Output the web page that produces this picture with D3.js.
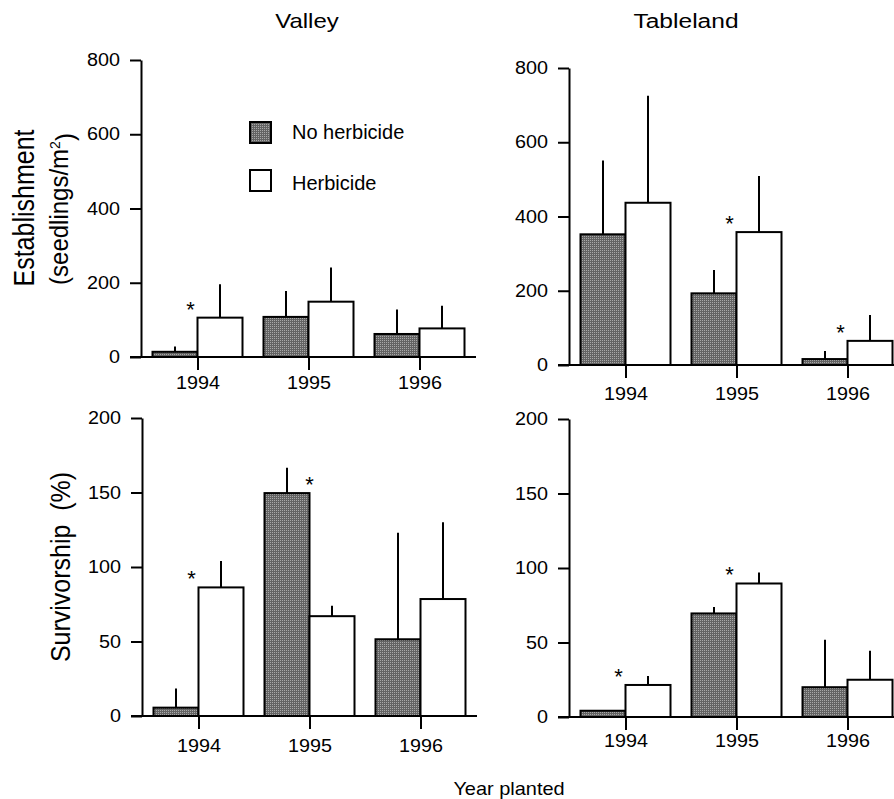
<!DOCTYPE html>
<html>
<head>
<meta charset="utf-8">
<script src="https://cdn.jsdelivr.net/npm/d3@7/dist/d3.min.js"></script>
<style>
  html, body { margin: 0; padding: 0; background: #fff; }
  svg { display: block; }
  text { font-family: "Liberation Sans", Arial, Helvetica, sans-serif; fill: #000; }
</style>
</head>
<body>
<svg id="chart" width="894" height="799"></svg>
<script>
// ---------------- DATA ----------------
const years = ["1994", "1995", "1996"];
const seriesNames = ["No herbicide", "Herbicide"];
const siteNames = ["Valley", "Tableland"];

const estTicks = [0, 200, 400, 600, 800];
const survTicks = [0, 50, 100, 150, 200];

// Establishment (seedlings/m2)
const valleyEstNo = [14, 108, 62];
const valleyEstNoErr = [14, 70, 66];
const valleyEstHerb = [106, 149, 77];
const valleyEstHerbErr = [90, 92, 61];
const valleyEstStars = ["1994"];

const tableEstNo = [352, 193, 16];
const tableEstNoErr = [199, 63, 22];
const tableEstHerb = [437, 358, 65];
const tableEstHerbErr = [288, 151, 70];
const tableEstStars = ["1995", "1996"];

// Survivorship (%)
const valleySurvNo = [5.6, 149.6, 51.5];
const valleySurvNoErr = [12.8, 17, 71.5];
const valleySurvHerb = [86.3, 67, 78.5];
const valleySurvHerbErr = [17.7, 7, 51.5];
const valleySurvStars = ["1994", "1995"];

const tableSurvNo = [4.2, 69.5, 20];
const tableSurvNoErr = [0, 4.3, 31.8];
const tableSurvHerb = [21.5, 89.6, 25];
const tableSurvHerbErr = [6, 7.4, 19.4];
const tableSurvStars = ["1994", "1995"];

// ---------------- LAYOUT ----------------
const svg = d3.select("#chart");
const FONT = '"Liberation Sans", Arial, Helvetica, sans-serif';

// pattern for the dark (stippled) bars
const defs = svg.append("defs");
const pat = defs.append("pattern").attr("id", "stipple")
  .attr("patternUnits", "userSpaceOnUse").attr("width", 2).attr("height", 2);
pat.append("rect").attr("width", 2).attr("height", 2).attr("fill", "#636363");
pat.append("rect").attr("width", 1).attr("height", 1).attr("fill", "#a8a8a8");

const panels = [
  { ax: 141, y0: 357, y1: 60, xEnd: 476, max: 800, ticks: estTicks, pad: 7,
    no: valleyEstNo, noErr: valleyEstNoErr, herb: valleyEstHerb, herbErr: valleyEstHerbErr, stars: valleyEstStars },
  { ax: 569, y0: 365, y1: 68, xEnd: 894, max: 800, ticks: estTicks, pad: 10,
    no: tableEstNo, noErr: tableEstNoErr, herb: tableEstHerb, herbErr: tableEstHerbErr, stars: tableEstStars },
  { ax: 142, y0: 716, y1: 418, xEnd: 477, max: 200, ticks: survTicks, pad: 11,
    no: valleySurvNo, noErr: valleySurvNoErr, herb: valleySurvHerb, herbErr: valleySurvHerbErr, stars: valleySurvStars },
  { ax: 569, y0: 717, y1: 419, xEnd: 894, max: 200, ticks: survTicks, pad: 5,
    no: tableSurvNo, noErr: tableSurvNoErr, herb: tableSurvHerb, herbErr: tableSurvHerbErr, stars: tableSurvStars }
];

const BAR_W = 45;
const TICK_SX = 1.13;

panels.forEach(p => {
  const g = svg.append("g");
  const y = d3.scaleLinear().domain([0, p.max]).range([p.y0, p.y1]);
  const x = d3.scaleBand().domain(years).range([p.ax + 1, p.ax + 1 + 333]).paddingInner(0).paddingOuter(0);
  const center = yr => x(yr) + x.bandwidth() / 2;

  // bars
  const rows = years.map((yr, i) => ({ yr, no: p.no[i], noErr: p.noErr[i], herb: p.herb[i], herbErr: p.herbErr[i] }));
  rows.forEach(r => {
    const c = center(r.yr);
    // error bars (behind bars is fine: they start at the bar top)
    if (r.noErr > 0) {
      g.append("line").attr("x1", c - BAR_W / 2).attr("x2", c - BAR_W / 2)
        .attr("y1", y(r.no)).attr("y2", y(r.no + r.noErr))
        .attr("stroke", "#000").attr("stroke-width", 2);
    }
    if (r.herbErr > 0) {
      g.append("line").attr("x1", c + BAR_W / 2).attr("x2", c + BAR_W / 2)
        .attr("y1", y(r.herb)).attr("y2", y(r.herb + r.herbErr))
        .attr("stroke", "#000").attr("stroke-width", 2);
    }
    g.append("rect").attr("x", c - BAR_W).attr("width", BAR_W)
      .attr("y", y(r.no)).attr("height", y(0) - y(r.no))
      .attr("fill", "url(#stipple)").attr("stroke", "#000").attr("stroke-width", 2);
    g.append("rect").attr("x", c).attr("width", BAR_W)
      .attr("y", y(r.herb)).attr("height", y(0) - y(r.herb))
      .attr("fill", "#fff").attr("stroke", "#000").attr("stroke-width", 2);
  });

  // significance stars
  p.stars.forEach(yr => {
    const i = years.indexOf(yr);
    const top = Math.max(p.no[i], p.herb[i]);
    const dx = p.herb[i] >= p.no[i] ? -7 : 0;
    g.append("text").attr("x", center(yr) + dx).attr("y", y(top) - 13.5 + 12.5)
      .attr("text-anchor", "middle").style("font-size", "22px").text("*");
  });

  // y axis
  const yAxis = d3.axisLeft(y).tickValues(p.ticks).tickSize(11).tickSizeOuter(0).tickPadding(10);
  const ga = svg.append("g").attr("transform", `translate(${p.ax},0)`).call(yAxis);
  ga.select(".domain").attr("stroke", "#000").attr("stroke-width", 2);
  ga.selectAll(".tick line").attr("stroke", "#000").attr("stroke-width", 2);
  ga.selectAll(".tick text").style("font-size", "17.5px").style("font-family", FONT).attr("fill", "#000")
    .each(function () {
      const t = d3.select(this);
      const tx = +t.attr("x") || 0;
      t.attr("x", 0).attr("transform", `translate(${tx},0) scale(${TICK_SX},1)`);
    });

  // x axis baseline
  svg.append("line").attr("x1", p.ax - 11).attr("x2", p.xEnd).attr("y1", p.y0).attr("y2", p.y0)
    .attr("stroke", "#000").attr("stroke-width", 2);

  // category ticks (centered between the pair of bars)
  const cx = d3.scalePoint().domain(years).range([center(years[0]), center(years[2])]);
  const xAxis = d3.axisBottom(cx).tickSize(13).tickSizeOuter(0).tickPadding(p.pad);
  const gx = svg.append("g").attr("transform", `translate(0,${p.y0})`).call(xAxis);
  gx.select(".domain").remove();
  gx.selectAll(".tick line").attr("stroke", "#000").attr("stroke-width", 2);
  gx.selectAll(".tick text").style("font-size", "17.5px").style("font-family", FONT).attr("fill", "#000")
    .attr("transform", `scale(${TICK_SX},1)`);
});

// ---------------- TEXTS ----------------
// titles
svg.append("text").attr("transform", "translate(307,28) scale(1.2,1)")
  .attr("text-anchor", "middle").style("font-size", "20px").text(siteNames[0]);
svg.append("text").attr("transform", "translate(686,28) scale(1.17,1)")
  .attr("text-anchor", "middle").style("font-size", "21px").text(siteNames[1]);

// y labels
svg.append("text").attr("transform", "translate(34,208) scale(1.15,1) rotate(-90)")
  .attr("text-anchor", "middle").style("font-size", "25px").text("Establishment");
const sl = svg.append("text").attr("transform", "translate(68,209) scale(1.1,1) rotate(-90)")
  .attr("text-anchor", "middle").style("font-size", "24px");
sl.append("tspan").text("(seedlings/m");
sl.append("tspan").attr("dy", "-0.55em").style("font-size", "14px").text("2");
sl.append("tspan").attr("dy", "0.55em").text(")");

svg.append("text").attr("transform", "translate(70,567) scale(1.12,1) rotate(-90)")
  .attr("text-anchor", "middle").style("font-size", "25px").attr("xml:space", "preserve")
  .text("Survivorship  (%)");

// x label
svg.append("text").attr("transform", "translate(509,795) scale(1.05,1)")
  .attr("text-anchor", "middle").style("font-size", "19px").text("Year planted");

// legend
const lg = svg.append("g");
lg.append("rect").attr("x", 250).attr("y", 122).attr("width", 21).attr("height", 21)
  .attr("fill", "url(#stipple)").attr("stroke", "#000").attr("stroke-width", 2);
lg.append("rect").attr("x", 250).attr("y", 170).attr("width", 21).attr("height", 21)
  .attr("fill", "#fff").attr("stroke", "#000").attr("stroke-width", 2);
lg.append("text").attr("x", 292).attr("y", 139).style("font-size", "20px").text(seriesNames[0]);
lg.append("text").attr("x", 292).attr("y", 190).style("font-size", "20px").text(seriesNames[1]);
</script>
</body>
</html>
